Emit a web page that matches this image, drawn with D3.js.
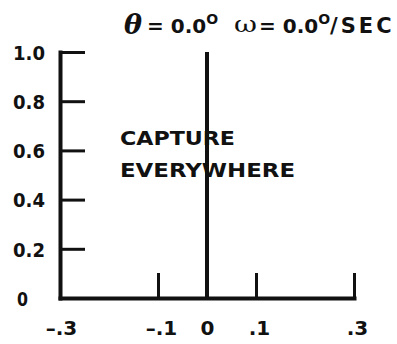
<!DOCTYPE html>
<html>
<head>
<meta charset="utf-8">
<script src="https://cdn.jsdelivr.net/npm/d3@7"></script>
<style>
  html, body { margin: 0; padding: 0; background: #fff; }
  svg { display: block; }
</style>
</head>
<body>
<svg id="chart" width="397" height="344"></svg>
<script>
// Axis ticks and labels
const xTicks = [-0.3, -0.1, 0, 0.1, 0.3];
const xTickLabels = ["\u2013.3", "\u2013.1", "0", ".1", ".3"];
const yTicks = [0, 0.2, 0.4, 0.6, 0.8, 1.0];
const yTickLabels = ["0", "0.2", "0.4", "0.6", "0.8", "1.0"];

// Capture boundary: a vertical segment at x = 0 spanning the full range
const boundaryX = [0, 0];
const boundaryY = [0, 1.0];

// Region annotation
const regionLabel = ["CAPTURE", "EVERYWHERE"];

const svg = d3.select("#chart");
const ink = "#111";
const sans = "'DejaVu Sans', sans-serif";

const x = d3.scaleLinear().domain([-0.3, 0.3]).range([60, 354]);
const y = d3.scaleLinear().domain([0, 1]).range([298, 52]);

function labelStyle(sel) {
  sel.style("font-family", sans).style("font-weight", "bold")
     .style("font-size", "20px").attr("fill", ink);
}

// Y axis: ticks point inward (to the right), labels left-aligned
const yAxisG = svg.append("g")
  .attr("transform", `translate(${x(-0.3)},0)`)
  .call(d3.axisLeft(y).tickValues(yTicks).tickSizeInner(-25).tickSizeOuter(0)
    .tickFormat((d, i) => yTickLabels[i]));
yAxisG.select(".domain").attr("stroke", ink).attr("stroke-width", 4).attr("stroke-linecap", "square");
yAxisG.selectAll(".tick line").attr("stroke", ink).attr("stroke-width", 3)
  .filter(d => d === 0).remove();
yAxisG.selectAll(".tick text")
  .call(labelStyle)
  .attr("text-anchor", "start")
  .attr("x", (d) => d === 0 ? -43 : -47)
  .attr("dy", "0.36em")
  .attr("textLength", d => d === 0 ? 11 : 32)
  .attr("lengthAdjust", "spacingAndGlyphs");

// X axis: ticks point upward, labels centred below
const xAxisG = svg.append("g")
  .attr("transform", `translate(0,${y(0)})`)
  .call(d3.axisBottom(x).tickValues(xTicks).tickSizeInner(-25).tickSizeOuter(0)
    .tickFormat((d, i) => xTickLabels[i]));
xAxisG.select(".domain").attr("stroke", ink).attr("stroke-width", 4).attr("stroke-linecap", "square");
xAxisG.selectAll(".tick line").attr("stroke", ink).attr("stroke-width", 3)
  .filter(d => d === -0.3 || d === 0).remove();
xAxisG.selectAll(".tick text")
  .call(labelStyle)
  .attr("y", 37)
  .attr("dy", null)
  .attr("dx", d => d === 0 ? 0 : (d === -0.3 ? 1 : 3));

// Boundary line at x = 0
svg.append("line")
  .attr("x1", x(boundaryX[0])).attr("x2", x(boundaryX[1]))
  .attr("y1", y(boundaryY[0])).attr("y2", y(boundaryY[1]))
  .attr("stroke", ink).attr("stroke-width", 4);

// Region annotation
const regionG = svg.append("g")
  .style("font-family", sans)
  .style("font-weight", "bold")
  .style("font-size", "20px")
  .attr("fill", ink);
regionG.append("text").attr("x", 120).attr("y", 145)
  .attr("textLength", 115).attr("lengthAdjust", "spacingAndGlyphs")
  .text(regionLabel[0]);
regionG.append("text").attr("x", 120).attr("y", 177)
  .attr("textLength", 175).attr("lengthAdjust", "spacingAndGlyphs")
  .text(regionLabel[1]);

// Title: initial angle and rate
const title = svg.append("g").attr("fill", ink);
title.append("text").attr("x", 124).attr("y", 34)
  .style("font-family", "'DejaVu Serif', serif").style("font-weight", "bold").style("font-style", "italic")
  .style("font-size", "27px").text("\u03B8");

// "= 0.0°" groups, each a single text with a raised degree mark
function valueWithDegree(x0, tail) {
  const t = title.append("text").attr("x", x0).attr("y", 33)
    .style("font-family", sans).style("font-weight", "bold").style("font-size", "20px");
  t.append("tspan").text("= 0.0");
  t.append("tspan").attr("dy", -9).style("font-size", "14px").text("O");
  if (tail) t.append("tspan").attr("dy", 9)
    .style("font-size", "21px").style("letter-spacing", "3px").text(tail);
  return t;
}
valueWithDegree(147, null);
title.append("text").attr("x", 234).attr("y", 32)
  .attr("textLength", 23).attr("lengthAdjust", "spacingAndGlyphs")
  .style("font-family", "'DejaVu Serif', serif").style("font-size", "22px").text("\u03C9");
valueWithDegree(259, "/SEC");
</script>
</body>
</html>
